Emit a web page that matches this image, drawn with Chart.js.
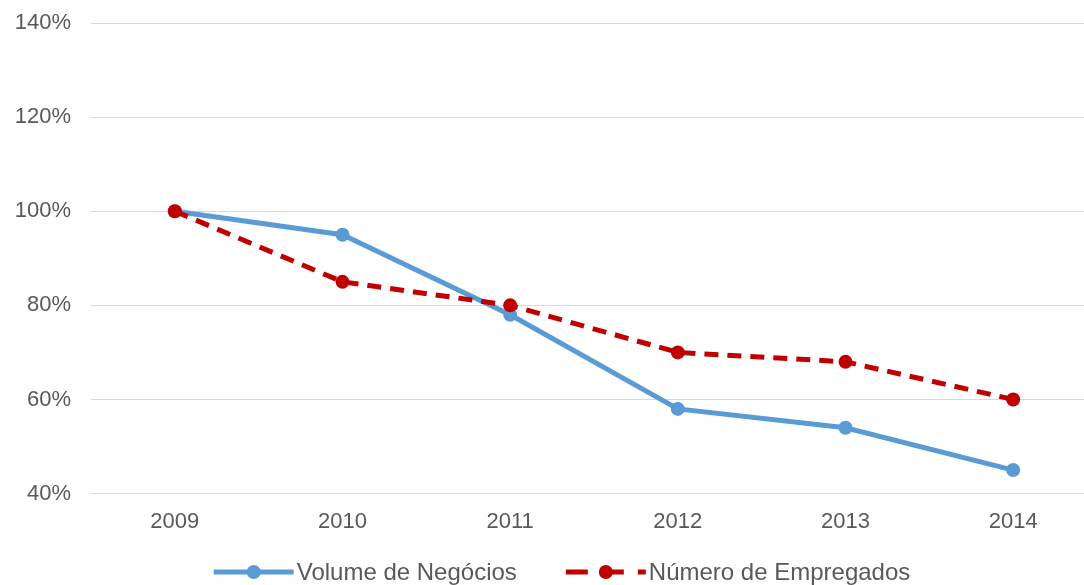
<!DOCTYPE html>
<html>
<head>
<meta charset="utf-8">
<script src="https://cdn.jsdelivr.net/npm/chart.js@4"></script>
<style>
  html, body { margin:0; padding:0; background:#fff; overflow:hidden; }
  #wrap { width:1100px; height:585px; }
</style>
</head>
<body>
<div id="wrap"><canvas id="chart"></canvas></div>
<script>
const anos = ['2009','2010','2011','2012','2013','2014'];
const volumeNegocios = [100, 95, 78, 58, 54, 45]; // %
const numeroEmpregados = [100, 85, 80, 70, 68, 60]; // %

const AZUL = '#5B9BD5', VERMELHO = '#C00000', CINZA = '#595959', GRELHA = '#D9D9D9';
const FONTE = '"Liberation Sans", Arial, sans-serif';

// legenda desenhada a mao: linha + marcador + texto, centrada em baixo
const legendaPlugin = {
  id: 'legendaLinha',
  afterDraw(chart) {
    const ctx = chart.ctx;
    const sets = chart.data.datasets;
    const iconW = 80, gapTxt = 3, gapItem = 49, y = 572;
    ctx.save();
    ctx.font = '24px ' + FONTE;
    const widths = sets.map(ds => iconW + gapTxt + ctx.measureText(ds.label).width);
    const total = widths.reduce((a, b) => a + b, 0) + gapItem * (sets.length - 1);
    let x = 562 - total / 2;
    sets.forEach((ds, i) => {
      ctx.strokeStyle = ds.borderColor;
      ctx.lineWidth = 5;
      ctx.setLineDash(ds.borderDash ? [22, 14] : []);
      ctx.beginPath(); ctx.moveTo(x, y); ctx.lineTo(x + iconW, y); ctx.stroke();
      ctx.setLineDash([]);
      ctx.fillStyle = ds.borderColor;
      ctx.beginPath(); ctx.arc(x + iconW / 2, y, 7, 0, Math.PI * 2); ctx.fill();
      ctx.fillStyle = CINZA;
      ctx.textBaseline = 'middle';
      ctx.textAlign = 'left';
      ctx.fillText(ds.label, x + iconW + gapTxt, y + 1);
      x += widths[i] + gapItem;
    });
    ctx.restore();
  }
};

new Chart(document.getElementById('chart'), {
  type: 'line',
  data: {
    labels: anos,
    datasets: [{
      label: 'Volume de Negócios',
      data: volumeNegocios,
      borderColor: AZUL,
      backgroundColor: AZUL,
      borderWidth: 5,
      pointRadius: 7,
      pointHoverRadius: 7,
      pointBorderWidth: 0,
      tension: 0,
      order: 2
    }, {
      label: 'Número de Empregados',
      data: numeroEmpregados,
      borderColor: VERMELHO,
      backgroundColor: VERMELHO,
      borderWidth: 5,
      borderDash: [14, 9],
      pointRadius: 7,
      pointHoverRadius: 7,
      pointBorderWidth: 0,
      tension: 0,
      order: 1
    }]
  },
  plugins: [legendaPlugin],
  options: {
    responsive: true,
    maintainAspectRatio: false,
    animation: false,
    layout: { autoPadding: false, padding: { top: 0, right: 3, bottom: 35, left: 0 } },
    plugins: {
      tooltip: { enabled: false },
      legend: { display: false }
    },
    scales: {
      x: {
        offset: true,
        grid: { display: false, drawTicks: false },
        border: { display: true, color: GRELHA, width: 1 },
        ticks: {
          color: CINZA,
          padding: 15,
          font: { family: FONTE, size: 22 }
        }
      },
      y: {
        min: 40,
        max: 140,
        afterFit: axis => { axis.width = 91; axis.paddingTop = 23; },
        grid: { color: GRELHA, lineWidth: 1, drawTicks: false },
        border: { display: false },
        ticks: {
          stepSize: 20,
          color: CINZA,
          padding: 20,
          font: { family: FONTE, size: 22 },
          callback: v => v + '%'
        }
      }
    }
  }
});
</script>
</body>
</html>
